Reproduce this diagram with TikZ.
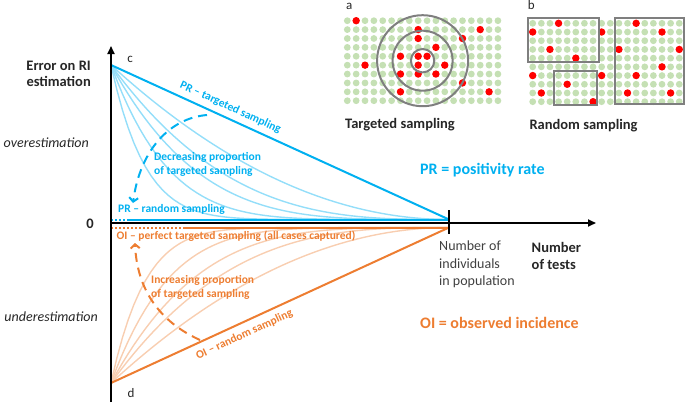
\documentclass[tikz,border=0pt]{standalone}
\usepackage{fontspec}
\setmainfont{Carlito}
\usetikzlibrary{positioning,arrows.meta}
\definecolor{prblue}{HTML}{00B0F0}
\definecolor{oiorange}{HTML}{ED7D31}
\definecolor{dotgreen}{HTML}{C5E0B4}
\definecolor{ringgray}{HTML}{7F7F7F}
\definecolor{txtgray}{HTML}{262626}

\begin{document}
\begin{tikzpicture}[x=1pt, y=-1pt,
    every node/.style={inner sep=0pt, text=txtgray},
    ax/.style={line width=1.8pt, black},
    prline/.style={prblue, line width=2pt},
    oiline/.style={oiorange, line width=2pt},
    prthin/.style={prblue!42, line width=1.4pt},
    oithin/.style={oiorange!38, line width=1.4pt},
    dotline/.style={dash pattern=on 2pt off 2pt},
    bendarrow/.style={line width=2pt, dash pattern=on 9pt off 6pt, -{Straight Barb[length=4pt,width=9pt]}},
    small/.style={font=\fontsize{11.5}{13.5}\selectfont\bfseries, align=left},
    big/.style={font=\fontsize{16}{19}\selectfont\bfseries},
    head/.style={font=\fontsize{14.5}{16.7}\selectfont\bfseries},
    plain/.style={font=\fontsize{14}{17.7}\selectfont},
    side/.style={font=\fontsize{14}{17}\selectfont\itshape},
    letter/.style={font=\fontsize{13}{15}\selectfont},
    ring/.style={ringgray, line width=2pt}]
  \useasboundingbox (0,0) rectangle (685,402);

  % axes and end points
  \coordinate (O) at (111,223);
  \coordinate (ytop) at (111,46);
  \coordinate (ybot) at (111,402);
  \coordinate (xend) at (596,223);
  \coordinate (c) at (111,65);
  \coordinate (d) at (111,383);
  \coordinate (pr) at (449,219.5);
  \coordinate (oi) at (449,227.5);
  \coordinate (prdot) at (111,219.5);
  \coordinate (prsol) at (127,219.5);
  \coordinate (oidot) at (111,227.5);
  \coordinate (oisol) at (183,227.5);
  \coordinate (ticktop) at (449,210);
  \coordinate (tickbot) at (449,234);

  % fan of curves
  \foreach \p in {2,3,4,6,10} {
    \draw[prthin] plot[domain=0:1, samples=60] ({111+338*\x},{219.5-154.5*(1-\x)^\p});
    \draw[oithin] plot[domain=0:1, samples=60] ({111+338*\x},{227.5+155.5*(1-\x)^\p});
  }

  \draw[prline] (c) -- node[sloped, above=5pt, pos=0.34, small, text=prblue] (prtarget) {PR -- targeted sampling} (pr);
  \draw[oiline] (d) -- node[sloped, below=6pt, pos=0.38, small, text=oiorange] (oirandom) {OI -- random sampling} (oi);
  \draw[prline, dotline] (prdot) -- (prsol);
  \draw[prline] (prsol) -- (pr);
  \draw[oiline, dotline] (oidot) -- (oisol);
  \draw[oiline] (oisol) -- (oi);

  \draw[ax, -{Triangle[length=8pt,width=7pt]}] (ybot) -- (ytop);
  \draw[ax, -{Triangle[length=8pt,width=7pt]}] (O) -- (xend);
  \draw[ax] (ticktop) -- (tickbot);

  \coordinate (bs) at (207,115);
  \coordinate (be) at (133,203);
  \coordinate (os) at (200,340);
  \coordinate (oe) at (135,243);
  \draw[bendarrow, prblue] (bs) .. controls (170,118) and (140,150) .. (be);
  \draw[bendarrow, oiorange] (os) .. controls (160,322) and (137,290) .. (oe);

  % labels
  \node[head, align=right, anchor=base east] (ylab) at (91,86.7) {Error on RI\\estimation};
  \node[side, anchor=base east] (over) at (89,147) {overestimation};
  \node[head, anchor=base] (zero) at (90,228.5) {0};
  \node[side, anchor=base east] (under) at (98,321.5) {underestimation};
  \node[letter, anchor=base] (clab) at (130,62) {c};
  \node[letter, anchor=base] (dlab) at (131,397.5) {d};
  \node[small, text=prblue, anchor=base west] (prrand) at (118,212.5) {PR -- random sampling};
  \node[small, text=oiorange, anchor=base west] (oiperf) at (116.5,239) {OI -- perfect targeted sampling (all cases captured)};
  \node[small, text=prblue, anchor=base west] (decr) at (154,174.3) {Decreasing proportion\\of targeted sampling};
  \node[small, text=oiorange, anchor=base west] (incr) at (151,297.3) {Increasing proportion\\of targeted sampling};
  \node[plain, align=left, text=black!75, anchor=base west] (npop) at (439,285.7) {Number of\\individuals\\in population};
  \node[head, align=left, anchor=base west] (xlab) at (531.5,269) {Number\\of tests};
  \node[big, text=prblue, anchor=base west] (prdef) at (420,174) {PR = positivity rate};
  \node[big, text=oiorange, anchor=base west] (oidef) at (420,328) {OI = observed incidence};

  % panel a: targeted sampling
  \foreach \i in {0,...,17}
    \foreach \j in {0,...,9}
      \fill[dotgreen] ({347.3+8.86*\i},{20.7+8.89*\j}) circle (3.4pt);
  \foreach \i/\j in {1/0,8/1,15/1,8/2,13/2,10/3,6/4,8/4,9/4,2/5,8/5,11/5,6/6,8/6,10/6,13/7,6/8,16/8}
    \fill[red] ({347.3+8.86*\i},{20.7+8.89*\j}) circle (3.7pt);
  \coordinate (target) at (422.6,60.7);
  \draw[ring] (target) circle (11.7pt);
  \draw[ring] (target) circle (30pt);
  \draw[ring] (target) circle (45.5pt);
  \node[letter, anchor=base west] (alab) at (346,9.3) {a};
  \node[head, anchor=base west] (tslab) at (345,128.3) {Targeted sampling};

  % panel b: random sampling
  \foreach \i in {0,...,17}
    \foreach \j in {0,...,9}
      \fill[dotgreen] ({532.7+8.62*\i},{23.3+8.71*\j}) circle (3.4pt);
  \foreach \i/\j in {3/0,12/0,0/1,8/1,15/1,2/3,10/3,17/3,5/4,15/5,0/6,8/6,12/6,4/7,1/8,11/8,16/8,7/9}
    \fill[red] ({532.7+8.62*\i},{23.3+8.71*\j}) circle (3.7pt);
  \draw[ring] (528,18.3) rectangle (599,62.3);
  \draw[ring] (553.7,70.7) rectangle (597,105);
  \draw[ring] (614.7,18.3) rectangle (683.8,103.5);
  \node[letter, anchor=base west] (blab) at (527.7,9.3) {b};
  \node[head, anchor=base west] (rslab) at (529.3,129.3) {Random sampling};
\end{tikzpicture}
\end{document}
